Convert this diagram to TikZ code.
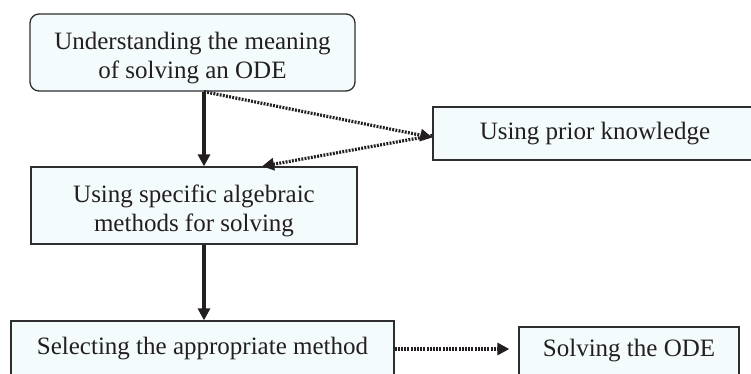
\documentclass[tikz,border=0pt]{standalone}
\usepackage{fontspec}
\setmainfont{Liberation Serif}
\usepackage{xcolor}
\usetikzlibrary{arrows.meta,positioning}
\definecolor{ink}{HTML}{231F20}
\definecolor{edge}{HTML}{2E2E2E}
\definecolor{boxbg}{HTML}{F4FBFD}
\newcommand{\padtop}{\rule{0pt}{29pt}}

\begin{document}
\begin{tikzpicture}[
  x=1pt,y=-1pt,
  box/.style={draw=edge,fill=boxbg,line width=1.3pt,align=center,inner sep=0pt,
              text=ink,font=\fontsize{25}{29}\selectfont},
  roundbox/.style={box,rounded corners=9pt},
  flow/.style={-{Triangle[length=12pt,width=12pt]},line width=3.2pt,draw=ink},
  hint/.style={-{Triangle[length=12pt,width=12pt]},line width=3.2pt,draw=ink,
               dash pattern=on 1.9pt off 1.3pt}
]
\clip (0,0) rectangle (751,373);
\fill[white] (0,0) rectangle (751,373);

% 1. Main column.
\node[roundbox,minimum width=325,minimum height=77]
  (meaning) at (192.5,52.5) {\padtop Understanding the meaning\\of solving an ODE};
\node[box,minimum width=326,minimum height=77]
  (methods) at (194,205.5) {\padtop Using specific algebraic\\methods for solving};
\node[box,minimum width=383,minimum height=56]
  (select) at (202.5,349) {Selecting the appropriate method};

% 2. Side boxes.
\node[box,minimum width=324,minimum height=53]
  (prior) at (595,133.5) {Using prior knowledge};
\node[box,minimum width=220,minimum height=48]
  (solve) at (629,351) {Solving the ODE};

\draw[flow] ([xshift=11.5]meaning.south) -- ([xshift=10]methods.north);
\draw[flow] ([xshift=10]methods.south) -- ([xshift=1.5]select.north);

\draw[hint] ([xshift=11.5]meaning.south) -- ([yshift=-4]prior.west);
\draw[hint] ([yshift=-2]prior.west) -- ([xshift=68]methods.north);
\draw[hint,shorten >=9pt] (select.east) -- (select.east -| solve.west);

\end{tikzpicture}
\end{document}
